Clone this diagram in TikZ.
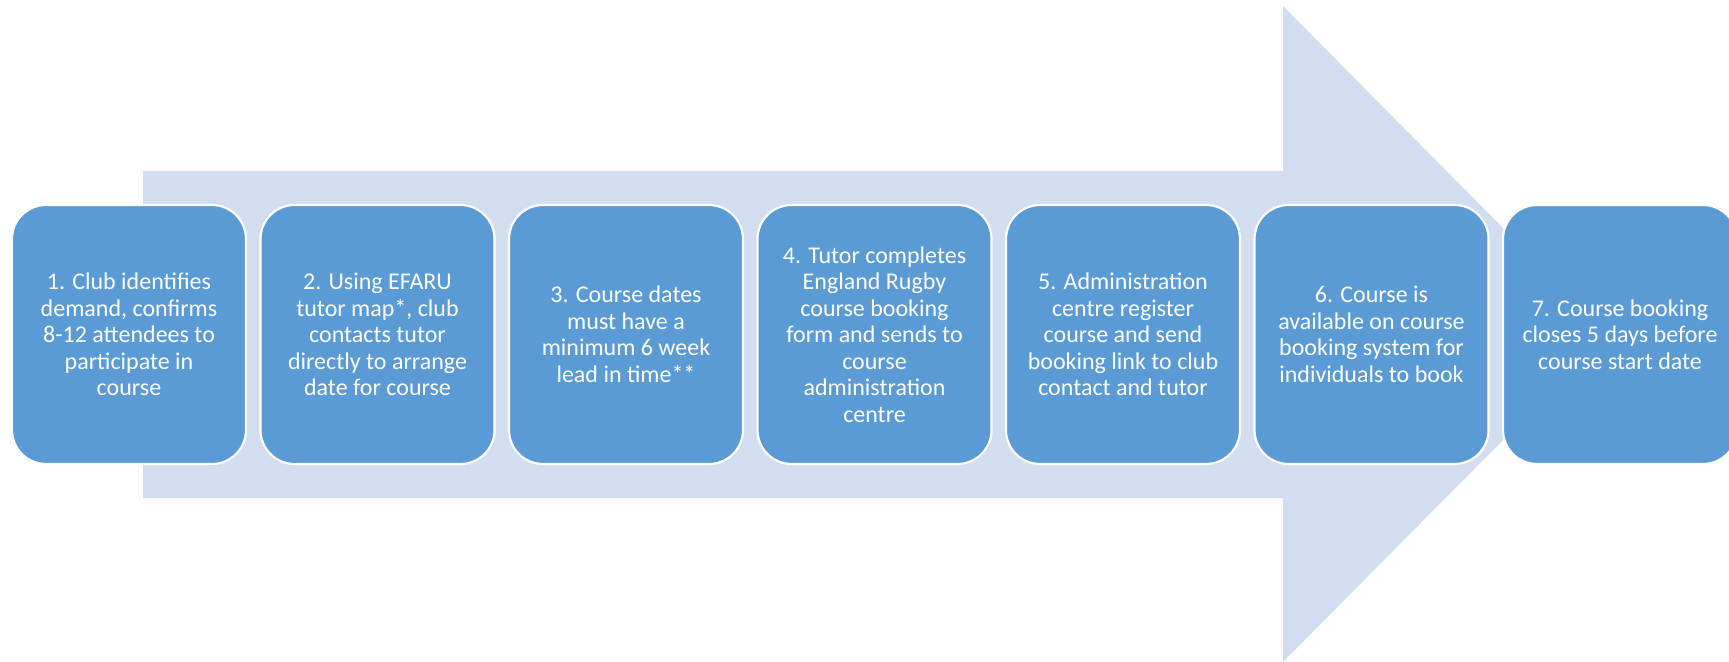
\documentclass[tikz,border=0pt]{standalone}
\usepackage{fontspec}
\setmainfont{Carlito}
\usepackage{tikz}
\usetikzlibrary{positioning}
\definecolor{boxblue}{RGB}{91,155,213}
\definecolor{arrowblue}{RGB}{210,222,239}

\begin{document}
\begin{tikzpicture}[x=0.5pt,y=-0.5pt,node distance=124.25pt,on grid]
	  \useasboundingbox (0,0) rectangle (1729,662);
	  \clip (0,0) rectangle (1729,662);
	  % big arrow behind the steps
	  \fill[arrowblue] (143,171) -- (1283,171) -- (1283,6) -- (1608,334)
	        -- (1283,662) -- (1283,498) -- (143,498) -- cycle;

	  \tikzset{stage/.style={draw=white,line width=1.1pt,fill=boxblue,rounded corners=17pt,
	        minimum width=117pt,minimum height=129.5pt,inner sep=0pt,
	        text=white,align=center,font=\fontsize{12}{13.25}\selectfont}}
	  \node[stage]          (s1) at (129,334.5)  {1. Club identifies\\demand, confirms\\8-12 attendees to\\participate in\\course};
	  \node[stage]          (s2) [right =of s1]  {2. Using EFARU\\tutor map*, club\\contacts tutor\\directly to arrange\\date for course};
	  \node[stage]          (s3) [right =of s2]  {3. Course dates\\must have a\\minimum 6 week\\lead in time**};
	  \node[stage]          (s4) [right =of s3]  {4. Tutor completes\\England Rugby\\course booking\\form and sends to\\course\\administration\\centre};
	  \node[stage]          (s5) [right =of s4]  {5. Administration\\centre register\\course and send\\booking link to club\\contact and tutor};
	  \node[stage]          (s6) [right =of s5]  {6. Course is\\available on course\\booking system for\\individuals to book};
	  \node[stage]          (s7) [right =of s6]  {7. Course booking\\closes 5 days before\\course start date};
\end{tikzpicture}
\end{document}
